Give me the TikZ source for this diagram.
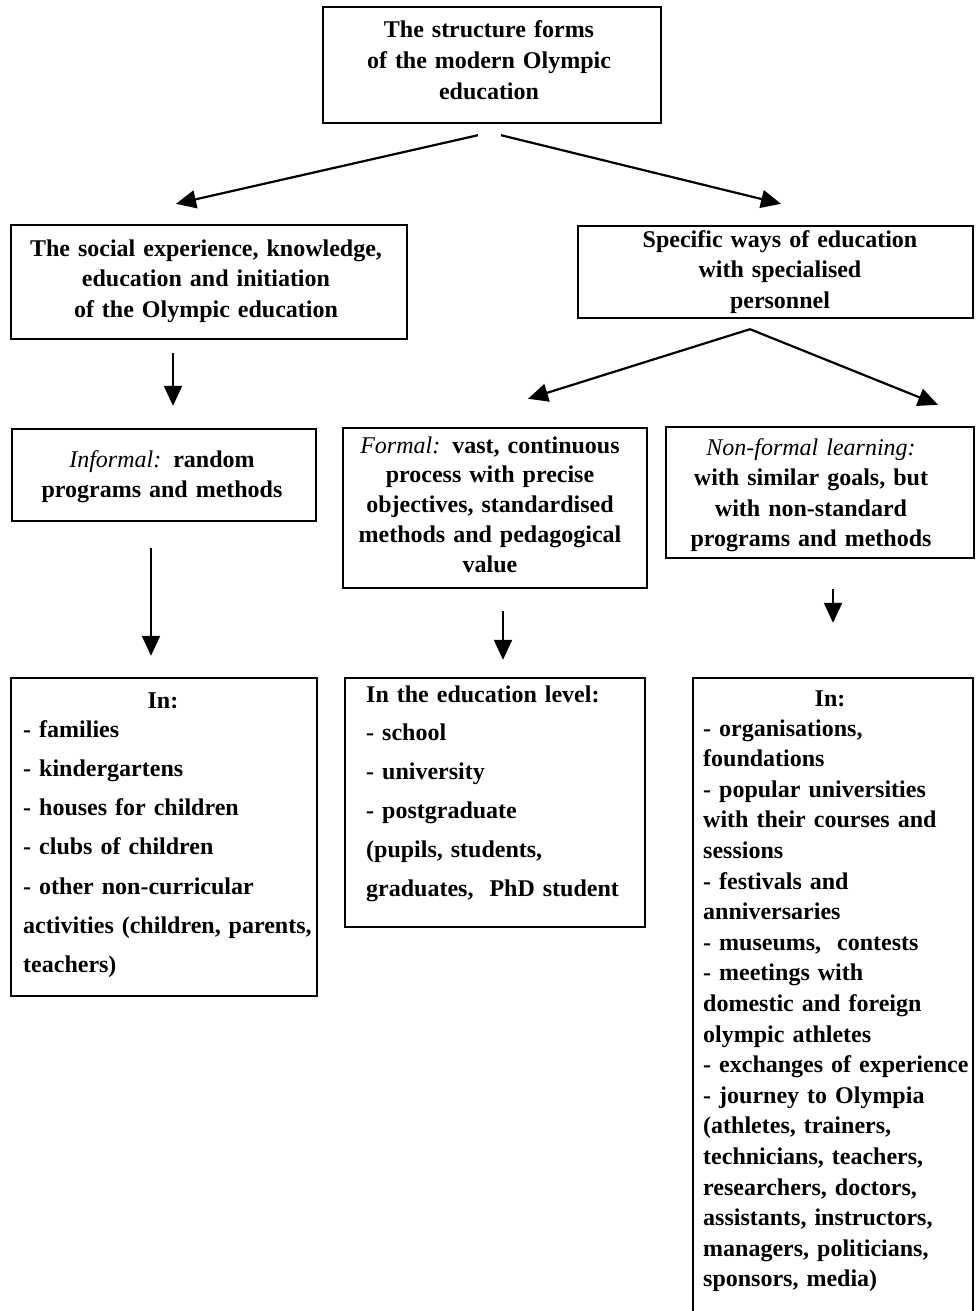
\documentclass[tikz,border=0pt]{standalone}
\usepackage{fontspec}
\setmainfont{Liberation Serif}
\usetikzlibrary{arrows.meta}
\begin{document}
\begin{tikzpicture}[x=1pt,y=-1pt,
  box/.style={draw,line width=2.4pt,inner sep=0pt},
  txt/.style={inner sep=0pt,text width=380pt,align=center,anchor=base},
  lst/.style={inner sep=0pt,text width=400pt,align=left,anchor=base west},
  arr/.style={line width=2.2pt,-{Triangle[length=20pt,width=18pt]}}]
\newcommand{\fs}[1]{\fontsize{24}{#1}\selectfont\bfseries}
\newcommand{\itpart}[1]{{\mdseries\itshape #1}}
\useasboundingbox (0,0) rectangle (976,1311);
% boxes
\node[box,minimum width=338pt,minimum height=116pt] (top) at (492,65) {};
\node[box,minimum width=396pt,minimum height=114pt] (social) at (209,282) {};
\node[box,minimum width=395pt,minimum height=92pt] (specific) at (775.5,272) {};
\node[box,minimum width=304pt,minimum height=92pt] (informal) at (164,475) {};
\node[box,minimum width=304pt,minimum height=160pt] (formal) at (495,508) {};
\node[box,minimum width=308pt,minimum height=131pt] (nonformal) at (820,492.5) {};
\node[box,minimum width=306pt,minimum height=318pt] (bl) at (164,837) {};
\node[box,minimum width=300pt,minimum height=249pt] (bm) at (495,802.5) {};
\node[box,minimum width=280pt,minimum height=662pt] (br) at (833,1009) {};
% texts
\node[txt,font=\fs{31}] (topt) at (489,38) {The structure forms\\of the modern Olympic\\education};
\node[txt,font=\fs{30.5}] (socialt) at (206,256) {The social experience, knowledge,\\education and initiation\\of the Olympic education};
\node[txt,font=\fs{30.5}] (specifict) at (780,247) {Specific ways of education\\with specialised\\personnel};
\node[txt,font=\fs{30}] (informalt) at (162,467) {\itpart{Informal:} random\\programs and methods};
\node[txt,font=\fs{29.75}] (formalt) at (490,453) {\itpart{Formal:} vast, continuous\\process with precise\\objectives, standardised\\methods and pedagogical\\value};
\node[txt,font=\fs{30.5}] (nonformalt) at (811,455) {\itpart{Non-formal learning:}\\with similar goals, but\\with non-standard\\programs and methods};
\node[txt,font=\fs{30}] (blin) at (163,708) {In:};
\node[lst,font=\fs{39.3}] (blt) at (23,737) {- families\\- kindergartens\\- houses for children\\- clubs of children\\- other non-curricular\\activities (children, parents,\\teachers)};
\node[lst,font=\fs{38.8}] (bmt) at (366,702) {In the education level:\\- school\\- university\\- postgraduate\\(pupils, students,\\graduates,\ \ PhD student};
\node[txt,font=\fs{30}] (brin) at (830,706) {In:};
\node[lst,font=\fs{30.6}] (brt) at (703,736) {- organisations,\\foundations\\- popular universities\\with their courses and\\sessions\\- festivals and\\anniversaries\\- museums,\ \ contests\\- meetings with\\domestic and foreign\\olympic athletes\\- exchanges of experience\\- journey to Olympia\\(athletes, trainers,\\technicians, teachers,\\researchers, doctors,\\assistants, instructors,\\managers, politicians,\\sponsors, media)};
% connectors
\draw[arr] ([shift={(-14,11)}]top.south) -- ([shift={(-33,-20)}]social.north);
\draw[arr] ([shift={(9,11)}]top.south) -- ([shift={(5.5,-21)}]specific.north);
\draw[arr] ([shift={(-36,13)}]social.south) -- ([shift={(9,-22)}]informal.north);
\draw[arr] ([shift={(-25.5,10)}]specific.south) -- ([shift={(33,-28)}]formal.north);
\draw[arr] ([shift={(-25.5,10)}]specific.south) -- ([shift={(118,-21)}]nonformal.north);
\draw[arr] ([shift={(-13,26)}]informal.south) -- ([shift={(-13,-21)}]bl.north);
\draw[arr] ([shift={(8,22)}]formal.south) -- ([shift={(8,-17)}]bm.north);
\draw[arr] ([shift={(13,30)}]nonformal.south) -- ([shift={(0,-54)}]br.north);
\end{tikzpicture}
\end{document}
